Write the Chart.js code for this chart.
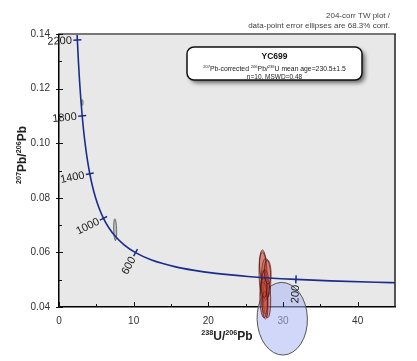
<!DOCTYPE html>
<html><head><meta charset="utf-8">
<script src="https://cdn.jsdelivr.net/npm/chart.js@4/dist/chart.umd.min.js"></script>
<style>html,body{margin:0;padding:0;background:#fff}#wrap{width:417px;height:361px;position:relative}</style>
</head><body><div id="wrap"><canvas id="c" width="417" height="361"></canvas></div>
<script>
// Concordia (Tera-Wasserburg) curve: age (Ma), 238U/206Pb, 207Pb/206Pb
const curveAges = [2300,2200,2100,2000,1900,1800,1700,1600,1500,1400,1300,1200,1100,1000,900,800,700,600,500,400,350,300,250,200,175,150,140];
const curveX = [2.3325,2.4586,2.5968,2.7490,2.9174,3.1046,3.3140,3.5497,3.8170,4.1227,4.4756,4.8875,5.3746,5.9593,6.6743,7.5684,8.7183,10.2518,12.3993,15.6212,17.9228,20.9920,25.2889,31.7347,36.3389,42.4780,45.5477];
const curveY = [0.14604,0.13782,0.13015,0.12299,0.11629,0.11004,0.10419,0.09872,0.09360,0.08881,0.08432,0.08012,0.07619,0.07250,0.06904,0.06580,0.06276,0.05990,0.05722,0.05470,0.05350,0.05233,0.05120,0.05011,0.04957,0.04905,0.04884];
const markAges = [2200,1800,1400,1000,600,200];

// Tick values
const xTickValues = [0,10,20,30,40];
const xMinorValues = [5,15,25,35];
const yTickValues = [0.04,0.06,0.08,0.10,0.12,0.14];
const yMinorValues = [0.05,0.07,0.09,0.11,0.13];

// Sample error ellipses (centre and half-axes, data units)
const sampleX  = [27.35,27.75,27.50,27.85,27.30,27.65,27.40,27.95,27.60,27.45];
const sampleY  = [0.0514,0.0506,0.0455,0.0433,0.0550,0.0481,0.0426,0.0528,0.0407,0.0472];
const sampleRX = [0.55,0.62,0.50,0.50,0.45,0.50,0.50,0.45,0.38,0.38];
const sampleRY = [0.0095,0.0073,0.0081,0.0073,0.0051,0.0055,0.0066,0.0044,0.0051,0.0037];

// Excluded (grey) ellipses
const otherX  = [3.10,7.52];
const otherY  = [0.1149,0.0683];
const otherRX = [0.12,0.20];
const otherRY = [0.0011,0.0040];

// Mean ellipse (blue)
const meanX  = [29.9];
const meanY  = [0.0357];
const meanRX = [3.37];
const meanRY = [0.0133];

const headerLines = ["204-corr TW plot /", "data-point error ellipses are 68.3% conf."];
const boxTitle = "YC699";
const boxLine2 = [["207",true],["Pb-corrected ",false],["206",true],["Pb/",false],["238",true],["U mean age=230.5\u00b11.5",false]];
const boxLine3 = "n=10, MSWD=0.48";
const xTitle = [["238",true],["U/",false],["206",true],["Pb",false]];
const yTitle = [["207",true],["Pb/",false],["206",true],["Pb",false]];

const FONT = "'Liberation Sans', Arial, sans-serif";

function drawRich(ctx, segs, x, y, size, bold, align, color){
  const supSize = size*0.6;
  const w = segs.map(s=>{ctx.font=(bold?'bold ':'')+(s[1]?supSize:size)+'px '+FONT; return ctx.measureText(s[0]).width;});
  const total = w.reduce((a,b)=>a+b,0);
  let cx = align==='center' ? x-total/2 : (align==='right'? x-total : x);
  ctx.fillStyle = color; ctx.textAlign='left'; ctx.textBaseline='alphabetic';
  segs.forEach((s,i)=>{
    ctx.font=(bold?'bold ':'')+(s[1]?supSize:size)+'px '+FONT;
    ctx.fillText(s[0], cx, s[1]? y-size*0.42 : y);
    cx += w[i];
  });
}

function drawEllipses(chart, xs, ys, rxs, rys, fill, stroke, lw){
  const sx = chart.scales.x, sy = chart.scales.y, ctx = chart.ctx;
  for(let i=0;i<xs.length;i++){
    const cx = sx.getPixelForValue(xs[i]), cy = sy.getPixelForValue(ys[i]);
    const rx = Math.abs(sx.getPixelForValue(xs[i]+rxs[i])-cx);
    const ry = Math.abs(sy.getPixelForValue(ys[i]+rys[i])-cy);
    ctx.beginPath();
    ctx.ellipse(cx, cy, rx, ry, -0.03, 0, Math.PI*2);
    ctx.fillStyle = fill; ctx.fill();
    ctx.strokeStyle = stroke; ctx.lineWidth = lw; ctx.stroke();
  }
}

const tw = {
  id:'tw',
  beforeDraw(chart){
    const {ctx, chartArea:a} = chart;
    ctx.save();
    ctx.fillStyle='#fff'; ctx.fillRect(0,0,chart.width,chart.height);
    ctx.fillStyle='#e8e8e8'; ctx.fillRect(a.left,a.top,a.right-a.left,a.bottom-a.top);
    ctx.restore();
  },
  beforeDatasetsDraw(chart){
    const ctx = chart.ctx;
    ctx.save();
    drawEllipses(chart, otherX, otherY, otherRX, otherRY, 'rgba(150,150,150,0.55)', '#555', 0.8);
    drawEllipses(chart, meanX, meanY, meanRX, meanRY, 'rgba(172,182,242,0.55)', '#555', 1);
    drawEllipses(chart, sampleX, sampleY, sampleRX, sampleRY, 'rgba(200,75,55,0.38)', 'rgba(80,15,15,0.9)', 0.8);
    ctx.restore();
  },
  afterDatasetsDraw(chart){
    const {ctx, chartArea:a} = chart;
    const sx = chart.scales.x, sy = chart.scales.y;
    ctx.save();
    // concordia age marks and labels
    const curveCol = '#1c2c8c';
    markAges.forEach(age=>{
      const i = curveAges.indexOf(age);
      const px = sx.getPixelForValue(curveX[i]), py = sy.getPixelForValue(curveY[i]);
      const x0 = sx.getPixelForValue(curveX[i-1]), y0 = sy.getPixelForValue(curveY[i-1]);
      const x1 = sx.getPixelForValue(curveX[i+1]), y1 = sy.getPixelForValue(curveY[i+1]);
      let tx = x1-x0, ty = y1-y0; const L = Math.hypot(tx,ty); tx/=L; ty/=L;
      const nx = ty, ny = -tx;
      ctx.strokeStyle = curveCol; ctx.lineWidth = 1.5;
      ctx.beginPath(); ctx.moveTo(px-nx*4, py-ny*4); ctx.lineTo(px+nx*4, py+ny*4); ctx.stroke();
      ctx.save();
      ctx.translate(px-nx*5.5, py-ny*5.5);
      ctx.rotate(Math.atan2(ny,nx));
      ctx.font = '11px '+FONT; ctx.fillStyle='#222'; ctx.textAlign='right'; ctx.textBaseline='middle';
      ctx.fillText(String(age), 0, 0.5);
      ctx.restore();
    });
    // frame top / right
    ctx.strokeStyle='#777'; ctx.lineWidth=2;
    ctx.beginPath(); ctx.moveTo(a.left-1, a.top); ctx.lineTo(a.right+1, a.top); ctx.stroke();
    ctx.strokeStyle='#222'; ctx.lineWidth=1.5;
    ctx.beginPath(); ctx.moveTo(a.right, a.top); ctx.lineTo(a.right, a.bottom); ctx.stroke();
    // axis ticks
    ctx.strokeStyle='#111'; ctx.lineWidth=1;
    yTickValues.forEach(v=>{const y=Math.round(sy.getPixelForValue(v))+0.5; ctx.beginPath(); ctx.moveTo(a.left-3,y); ctx.lineTo(a.left+4,y); ctx.stroke();});
    yMinorValues.forEach(v=>{const y=Math.round(sy.getPixelForValue(v))+0.5; ctx.beginPath(); ctx.moveTo(a.left,y); ctx.lineTo(a.left+3,y); ctx.stroke();});
    xTickValues.forEach(v=>{const x=Math.round(sx.getPixelForValue(v))+0.5; ctx.beginPath(); ctx.moveTo(x,a.bottom-5); ctx.lineTo(x,a.bottom); ctx.stroke();});
    xMinorValues.forEach(v=>{const x=Math.round(sx.getPixelForValue(v))+0.5; ctx.beginPath(); ctx.moveTo(x,a.bottom-3); ctx.lineTo(x,a.bottom); ctx.stroke();});
    // annotation box
    const bx=187, by=47, bw=175, bh=33, r=7;
    ctx.save();
    ctx.shadowColor='rgba(0,0,0,0.55)'; ctx.shadowBlur=4; ctx.shadowOffsetX=3; ctx.shadowOffsetY=3;
    ctx.beginPath(); ctx.roundRect(bx,by,bw,bh,r); ctx.fillStyle='#fff'; ctx.fill();
    ctx.restore();
    ctx.beginPath(); ctx.roundRect(bx,by,bw,bh,r); ctx.strokeStyle='#111'; ctx.lineWidth=1.5; ctx.stroke();
    ctx.font='bold 8.5px '+FONT; ctx.fillStyle='#111'; ctx.textAlign='center'; ctx.textBaseline='alphabetic';
    ctx.fillText(boxTitle, bx+bw/2, 59);
    drawRich(ctx, boxLine2, bx+bw/2, 70.5, 6.8, false, 'center', '#222');
    ctx.font='6.5px '+FONT; ctx.fillStyle='#222'; ctx.textAlign='center';
    ctx.fillText(boxLine3, bx+bw/2, 78.5);
    // header
    ctx.font='8px '+FONT; ctx.fillStyle='#444'; ctx.textAlign='right';
    ctx.fillText(headerLines[0], 390, 18);
    ctx.fillText(headerLines[1], 390, 28);
    // axis titles
    drawRich(ctx, xTitle, (a.left+a.right)/2, 340, 12, true, 'center', '#222');
    ctx.save(); ctx.translate(26, 155); ctx.rotate(-Math.PI/2);
    drawRich(ctx, yTitle, 0, 0, 12, true, 'center', '#222');
    ctx.restore();
    ctx.restore();
  }
};

new Chart(document.getElementById('c'), {
  type:'scatter',
  data:{datasets:[{
    data: curveX.map((x,i)=>({x, y:curveY[i]})),
    showLine:true, borderColor:'#1c2c8c', borderWidth:1.6, pointRadius:0,
    cubicInterpolationMode:'monotone', fill:false
  }]},
  options:{
    responsive:false, animation:false, devicePixelRatio:1,
    layout:{padding:{top:34,right:22,left:0,bottom:0}},
    plugins:{legend:{display:false}, tooltip:{enabled:false}},
    scales:{
      x:{type:'linear', min:0, max:45,
        grid:{display:false, drawTicks:false, tickLength:0}, border:{display:true,color:'#000',width:1.5},
        ticks:{color:'#333', font:{family:FONT,size:10}, padding:8, maxRotation:0, autoSkip:false, callback:v=>String(v)},
        afterBuildTicks:s=>{s.ticks = xTickValues.map(v=>({value:v}));},
        afterFit:s=>{s.height=54;}
      },
      y:{type:'linear', min:0.04, max:0.14,
        grid:{display:false, drawTicks:false, tickLength:0}, border:{display:true,color:'#000',width:1.5},
        ticks:{color:'#333', font:{family:FONT,size:10}, padding:9, autoSkip:false, callback:v=>Number(v).toFixed(2)},
        afterBuildTicks:s=>{s.ticks = yTickValues.map(v=>({value:v}));},
        afterFit:s=>{s.width=59;}
      }
    }
  },
  plugins:[tw]
});
</script></body></html>
